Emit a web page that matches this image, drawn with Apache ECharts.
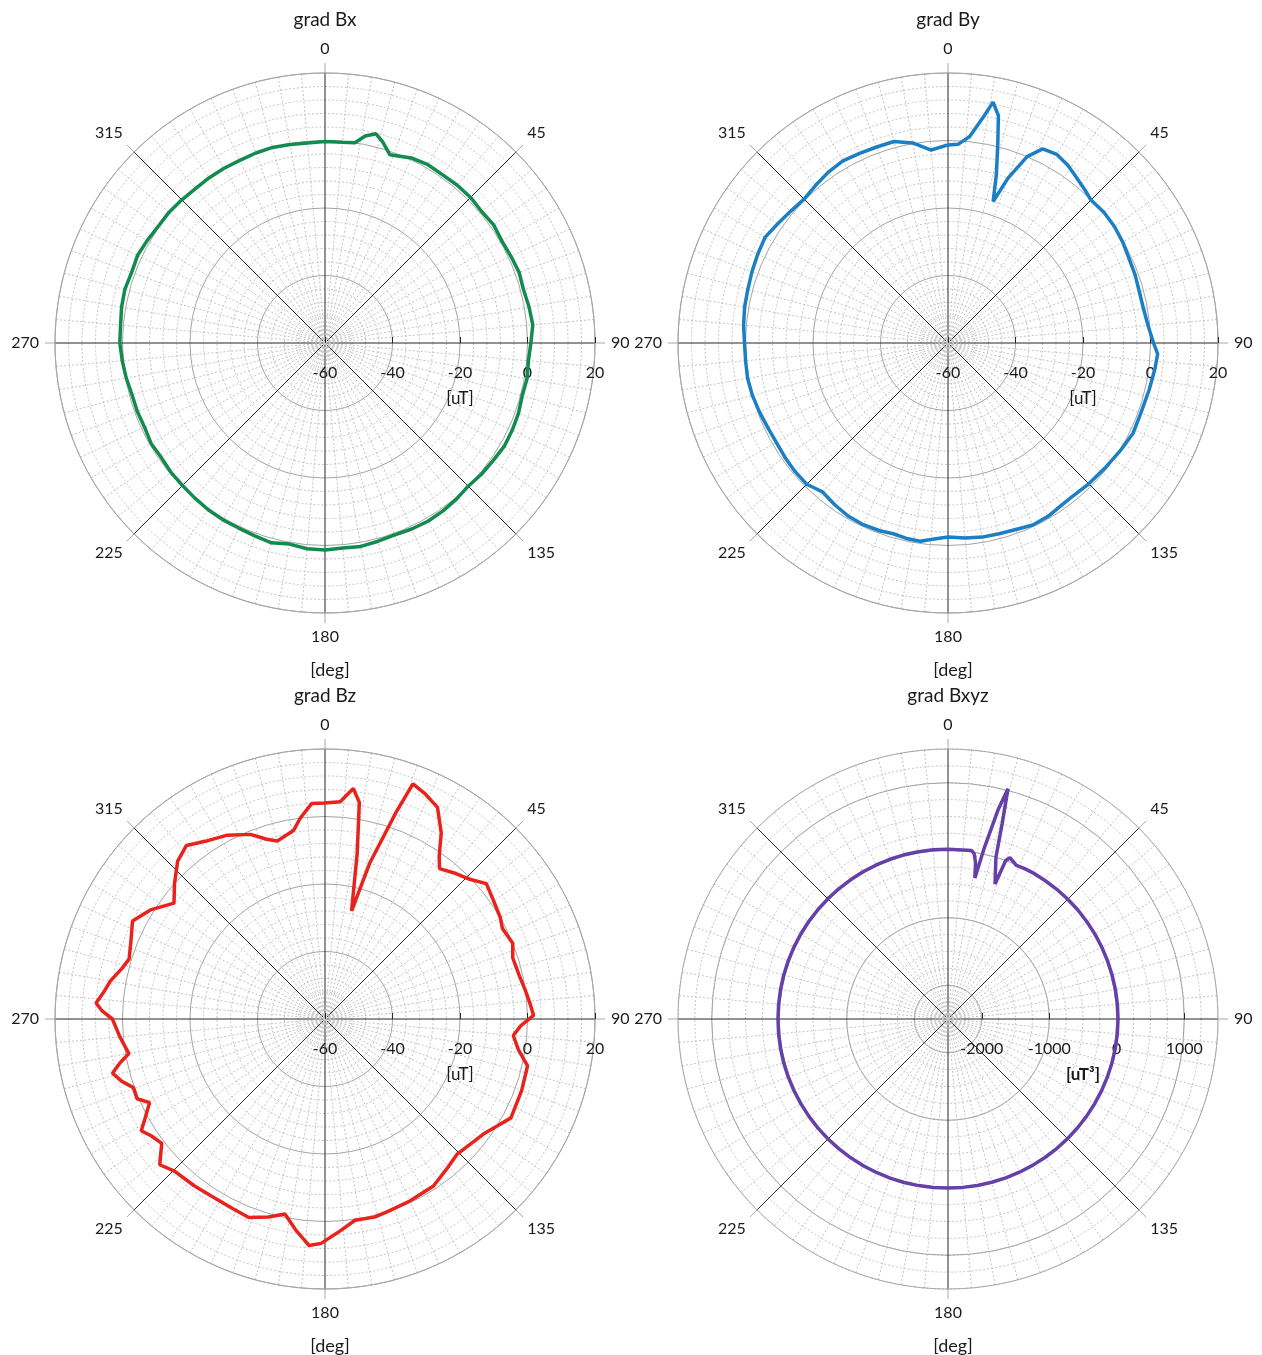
<!DOCTYPE html>
<html>
<head>
<meta charset="utf-8">
<title>grad B polar plots</title>
<script src="https://cdn.jsdelivr.net/npm/echarts@6/dist/echarts.min.js"></script>
<style>
  html, body { margin: 0; padding: 0; background: #fff; }
  #chart { width: 1262px; height: 1355px; }
</style>
</head>
<body>
<div id="chart"></div>
<script>
// angle labels, deg
const angleTicks = [0, 45, 90, 135, 180, 225, 270, 315];

// grad Bx [uT]
const bxAngle = [0, 5, 8.5, 11, 13.7, 16, 19, 25, 30, 35, 40, 45, 50, 55, 60, 65, 70, 75, 80, 85, 90, 95, 100, 105, 110, 115, 120, 125, 130, 135, 140, 145, 150, 155, 160, 165, 170, 175, 180, 185, 190, 195, 200, 205, 210, 215, 220, 225, 230, 235, 240, 245, 250, 255, 260, 265, 270, 275, 280, 285, 290, 295, 300, 305, 310, 315, 320, 325, 330, 335, 340, 345, 350, 355, 360];
const bxValue = [-0.3, -0.3, 0, 2.5, 3.8, 2, -1, 0.5, 1, 0.8, 1, 1, 0.6, 1, 0.5, 0.8, 1.2, 0.9, 1.4, 1.8, 1, 0.5, 0.8, 0.5, 1, 1.2, 1.3, 0.8, 0.5, 0, 0.5, 0.8, 1, 0.8, 0.5, 0.8, 1.2, 1, 1.3, 1.2, 0.5, 1.3, 0.8, 0.5, 0.5, 0.3, 0, -0.3, -0.4, -0.8, -0.5, -1, -0.8, -0.8, -0.2, 0.3, 0.8, 0.8, 1.2, 1.4, 1, 1.3, 0.8, 0.3, 0.3, 0, -0.3, -0.2, -0.2, -0.3, -0.1, 0, -0.3, -0.5, -0.3];

// grad By [uT]
const byAngle = [0, 3, 6, 9, 10.6, 12.5, 14, 16, 17.7, 20, 23, 26, 30, 34, 38, 42, 45, 50, 55, 60, 65, 70, 75, 80, 85, 90, 93, 97, 103, 110, 116, 122, 128, 135, 142, 150, 155, 160, 165, 170, 175, 180, 184, 188, 192, 196, 200, 205, 210, 215, 220, 222, 225, 230, 235, 240, 245, 250, 255, 260, 265, 270, 275, 280, 285, 290, 295, 300, 305, 310, 315, 320, 325, 330, 335, 340, 345, 350, 355, 360];
const byValue = [-1.3, -1, 1.5, 8, 12.6, 9, 1, -8, -16, -8, 0, 4, 4.5, 3.5, 2, 0.8, -0.1, 0.3, 0.2, -0.2, -0.8, -1, -1.3, -1.2, -0.5, 0.9, 2.2, 1.8, 1.2, 0.8, 1, 0.2, -0.5, -1, -1.5, -0.7, -0.5, -1.2, -1.5, -1.6, -2, -2.5, -1.8, -0.7, -0.8, -1.2, -0.8, -0.6, -0.8, -1.5, -2.3, -1.8, -0.8, -0.8, -1, -1.2, -1, -0.5, 0, 0.3, 0.2, 0.3, 0.8, 1.2, 1.4, 1.8, 2.2, 2.6, 1.6, 0.8, 0.3, 1, 1.8, 2.3, 2, 1.8, 1.8, 0.2, -2.6, -1.3];

// grad Bz [uT]
const bzAngle = [0, 4, 7, 9, 11, 13.8, 16, 19, 20.5, 24, 28, 32, 35, 37.3, 42, 46, 50, 55, 60, 63, 68, 72, 77.5, 82, 86, 89, 92, 95, 99, 103, 110, 118, 122, 126, 130, 135.6, 140, 147, 155, 162, 166, 171.5, 176, 181, 184, 188, 191.6, 196, 201, 206, 212.6, 218, 224.7, 228.6, 232.7, 236, 238.7, 241, 244.5, 247, 250.3, 253, 255.7, 258, 260, 265, 270, 272, 274, 277, 280, 284, 287, 292, 297, 302, 307.5, 312, 317, 321.4, 326, 332, 338, 342, 345, 350.5, 353, 356.5, 360];
const bzValue = [4, 4.5, 8.8, 5, -10, -27, -12, 5, 14.4, 13, 11, 5, -1, -4, -2, -0.4, 2.4, 1, 0, -1, 0, -1.5, -1, 0, 1, 1.8, -2, -4, -2, 1.6, 2, 2.4, 0, -2, -3, -4, -3, -1, -0.5, 0, 0.5, 0.3, 3, 6.5, 7.3, 3, -1, 1, 3, 2.5, 2.3, 2.8, 3.4, 5.3, 0.8, 2, 3.7, 1, -2.4, 0.5, 0.3, 3, 5, 2, -1, 1, 3, 6, 8, 6, 4.6, 2, 0.7, 2, 4, 1, -3.6, 0, 4, 5.8, 3.5, 1.7, -1, -4, -5.4, -3.4, 0, 4, 4];

// grad Bxyz [uT^3]
const bxyzAngle = [0, 5, 8, 9, 10, 10.8, 12, 13.5, 14.6, 15.5, 16.5, 19.2, 20, 21, 24, 27, 30, 35, 40, 45, 50, 55, 60, 65, 70, 75, 80, 85, 90, 95, 100, 105, 110, 115, 120, 125, 130, 135, 140, 145, 150, 155, 160, 165, 170, 175, 180, 185, 190, 195, 200, 205, 210, 215, 220, 225, 230, 235, 240, 245, 250, 255, 260, 265, 270, 275, 280, 285, 290, 295, 300, 305, 310, 315, 320, 325, 330, 335, 340, 345, 350, 355, 360];
const bxyzValue = [15, 15, 20, -20, -150, -373, 100, 700, 1026, 500, 0, -382, 0, 60, -10, 0, 5, 5, 8, 10, 12, 12, 14, 15, 16, 17, 18, 19, 19, 18, 17, 15, 13, 11, 9, 8, 7, 6, 5, 5, 4, 4, 4, 4, 4, 4, 4, 5, 6, 7, 8, 9, 10, 11, 12, 13, 14, 15, 16, 17, 18, 19, 19, 19, 19, 19, 19, 19, 19, 19, 19, 19, 18, 18, 18, 18, 18, 18, 18, 18, 17, 16, 15];

// radius axes: [min, max, interval, name]
const radiusRange = [
  [-60, 20, 20, '[uT]'],
  [-60, 20, 20, '[uT]'],
  [-60, 20, 20, '[uT]'],
  [-2500, 1500, 250, '[uT\u00b3]']
];
// labelled scale of grad Bxyz
const bxyzLabelRange = [-2000, 1000, 1000];

const titles = ['grad Bx', 'grad By', 'grad Bz', 'grad Bxyz'];
const colors = ['#138a4e', '#1b7fc6', '#e8231d', '#6540a8'];

const chart = echarts.init(document.getElementById('chart'));

const centers = [[325, 343], [948, 343], [325, 1019], [948, 1019]];
const R = 270;
const fontFamily = 'Lato, "Open Sans", sans-serif';

let polar = [], angleAxis = [], radiusAxis = [], series = [], title = [];

const plotData = [
  [bxAngle, bxValue],
  [byAngle, byValue],
  [bzAngle, bzValue],
  [bxyzAngle, bxyzValue]
];

centers.forEach((c, i) => {
  const [rMin, rMax, rInt, unit] = radiusRange[i];
  const isXyz = i === 3;

  // main polar: grid, angle labels, series
  polar.push({ center: c, radius: R });
  const pMain = polar.length - 1;
  angleAxis.push({
    polarIndex: pMain,
    type: 'value', min: 0, max: 360, interval: 45,
    startAngle: 90, clockwise: true,
    axisLine: { lineStyle: { color: '#a8a8a8', width: 1 } },
    axisTick: { show: true, length: 10, lineStyle: { color: '#a8a8a8' } },
    axisLabel: {
      margin: 16, color: '#1a1a1a', fontSize: 16, fontFamily,
      formatter: v => angleTicks.includes(v) ? String(v) : ''
    },
    splitLine: { lineStyle: { color: '#262626', width: 1 } },
    minorTick: { show: false, splitNumber: 9 },
    minorSplitLine: { show: true, lineStyle: { color: '#c4c4c4', type: [2, 2], width: 1 } }
  });
  radiusAxis.push({
    polarIndex: pMain,
    type: 'value', min: rMin, max: rMax, interval: rInt,
    axisLine: { show: false }, axisTick: { show: false }, axisLabel: { show: false },
    splitLine: isXyz
      ? { show: true, lineStyle: { color: '#c4c4c4', type: [2, 2] } }
      : { show: true, lineStyle: { color: '#a3a3a3', width: 1 } },
    minorTick: { show: false, splitNumber: 5 },
    minorSplitLine: { show: !isXyz, lineStyle: { color: '#c4c4c4', type: [2, 2] } }
  });

  // second polar turned to 90 deg so the radius scale runs to the right
  let lab = isXyz ? bxyzLabelRange : [rMin, rMax, rInt];
  const scale = R / (rMax - rMin);
  const inner = isXyz ? (lab[0] - rMin) * scale : 0;
  const outer = isXyz ? (lab[1] - rMin) * scale : R;
  polar.push({ center: c, radius: [inner, outer] });
  const pLab = polar.length - 1;
  angleAxis.push({
    polarIndex: pLab, type: 'value', min: 0, max: 360,
    startAngle: 0, clockwise: true, show: false
  });
  radiusAxis.push({
    polarIndex: pLab,
    type: 'value', min: lab[0], max: lab[1], interval: lab[2],
    axisLine: { show: false },
    axisTick: { show: true, length: 6, lineStyle: { color: '#262626' } },
    axisLabel: {
      margin: -30, verticalAlign: 'middle', color: '#1a1a1a', fontSize: 16, fontFamily,
      showMinLabel: true, showMaxLabel: true,
      formatter: v => String(v)
    },
    splitLine: { show: isXyz, lineStyle: { color: '#a3a3a3', width: 1 } },
    name: unit, nameLocation: 'middle', nameGap: 47,
    nameTextStyle: { color: '#1a1a1a', fontSize: 17, fontFamily, fontWeight: isXyz ? 'bold' : 'normal' }
  });

  const [ang, val] = plotData[i];
  series.push({
    name: titles[i],
    type: 'line',
    coordinateSystem: 'polar',
    polarIndex: pMain,
    showSymbol: false,
    smooth: false,
    lineStyle: { color: colors[i], width: 3.5 },
    data: ang.map((a, k) => [val[k], a]),
    z: 5
  });

  title.push({
    text: titles[i], left: c[0] - 5, top: 5 + (i >= 2 ? 676 : 0), textAlign: 'center',
    textStyle: { fontSize: 19, fontWeight: 'normal', color: '#1a1a1a', fontFamily }
  });
  title.push({
    text: '[deg]', left: c[0], top: c[1] + 313, textAlign: 'center',
    textStyle: { fontSize: 18, fontWeight: 'normal', color: '#1a1a1a', fontFamily }
  });
});

chart.setOption({
  backgroundColor: '#fff',
  animation: false,
  title: title,
  polar: polar,
  angleAxis: angleAxis,
  radiusAxis: radiusAxis,
  series: series
});
</script>
</body>
</html>
